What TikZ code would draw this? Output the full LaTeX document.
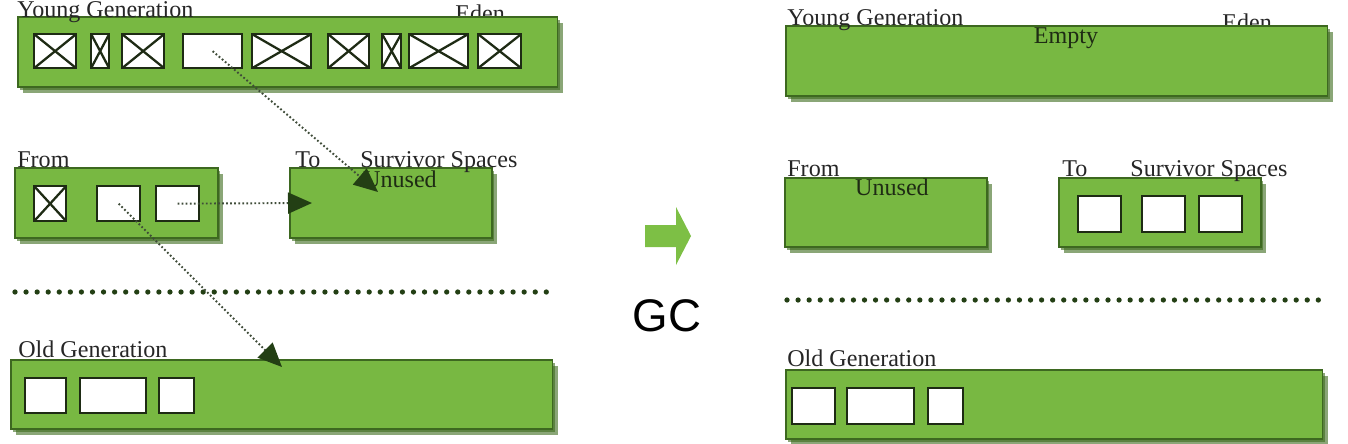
\documentclass[tikz,border=0pt]{standalone}
\usepackage{fontspec}
\setmainfont{Liberation Serif}
\newfontfamily\gcfont{Liberation Sans}
\usetikzlibrary{arrows.meta, shadows, positioning}
\definecolor{gcgreen}{HTML}{78B842}
\definecolor{gcedge}{HTML}{3D6820}
\definecolor{gcshade}{HTML}{3C6A1C}
\definecolor{gchead}{HTML}{233F14}
\definecolor{gcdots}{HTML}{3F4C39}
\definecolor{gcink}{HTML}{1E2B14}
\definecolor{gcarrow}{HTML}{7DBF45}

\begin{document}
\begin{tikzpicture}[
  x=0.02cm, y=-0.02cm,
  region/.style={draw=gcedge, line width=0.9pt, fill=gcgreen, anchor=north west, inner sep=0pt,
                 double copy shadow={shadow xshift=0.05cm, shadow yshift=-0.06cm, fill=gcshade, draw=none, opacity=0.6}},
  obj/.style={draw=gcink, line width=1.3pt, fill=white, anchor=north west, inner sep=0pt},
  dead/.style={obj, path picture={\draw[gcink, line width=1.3pt]
                 (path picture bounding box.north west) -- (path picture bounding box.south east)
                 (path picture bounding box.south west) -- (path picture bounding box.north east);}},
  lbl/.style={anchor=base west, inner sep=0pt, text=black!85, font=\fontsize{13.7}{16}\selectfont},
  note/.style={lbl, anchor=base, text=gcink},
  move/.style={gcdots, line width=1.1pt, dash pattern=on 1pt off 1.3pt,
               -{Triangle[length=0.48cm, width=0.42cm, color=gchead]}},
  sep/.style={gchead, line width=3pt, line cap=round, dash pattern=on 0pt off 6.3pt}
]
\useasboundingbox (0,0) rectangle (1348,443);

% labels behind the boxes
\node[lbl] (eden1) at (455,21) {Eden};
\node[lbl] (eden2) at (1222,30) {Eden};

% ---- before GC ----
\node[region, minimum width=10.8cm, minimum height=1.4cm] (young1) at (17,16) {};
\node[dead, minimum width=0.84cm, minimum height=0.68cm] (e1) at (33,33) {};
\node[dead, minimum width=0.36cm, minimum height=0.68cm] (e2) at (90,33) {};
\node[dead, minimum width=0.84cm, minimum height=0.68cm] (e3) at (121,33) {};
\node[obj,  minimum width=1.18cm, minimum height=0.68cm] (e4) at (182,33) {};
\node[dead, minimum width=1.18cm, minimum height=0.68cm] (e5) at (251,33) {};
\node[dead, minimum width=0.82cm, minimum height=0.68cm] (e6) at (327,33) {};
\node[dead, minimum width=0.38cm, minimum height=0.68cm] (e7) at (381,33) {};
\node[dead, minimum width=1.18cm, minimum height=0.68cm] (e8) at (408,33) {};
\node[dead, minimum width=0.86cm, minimum height=0.68cm] (e9) at (477,33) {};

\node[region, minimum width=4.06cm, minimum height=1.4cm] (from1) at (14,167) {};
\node[dead, minimum width=0.64cm, minimum height=0.7cm] (f1) at (33,185) {};
\node[obj,  minimum width=0.86cm, minimum height=0.7cm] (f2) at (96,185) {};
\node[obj,  minimum width=0.86cm, minimum height=0.7cm] (f3) at (155,185) {};
\node[region, minimum width=4.04cm, minimum height=1.4cm] (to1) at (289,167) {};

\draw[sep] (15,292) -- (557,292);

\node[region, minimum width=10.84cm, minimum height=1.38cm] (old1) at (10,359) {};
\node[obj, minimum width=0.82cm, minimum height=0.7cm] (o1) at (24,377) {};
\node[obj, minimum width=1.32cm, minimum height=0.7cm] (o2) at (79,377) {};
\node[obj, minimum width=0.7cm,  minimum height=0.7cm] (o3) at (158,377) {};

\node[lbl] (yg1) at (17,17) {Young Generation};
\node[lbl] (fr1) at (17,167) {From};
\node[lbl] (tl1) at (295,167) {To};
\node[lbl] (sv1) at (360,167) {Survivor Spaces};
\node[note] (un1) at (400,187) {Unused};
\node[lbl] (og1) at (18,357) {Old Generation};

\coordinate (tip1) at (378,192);
\coordinate (tip2) at (312,203);
\coordinate (tip3) at (282,367);
\draw[move] (e4.center) -- (tip1);
\draw[move] (f3.center) -- (tip2);
\draw[move] (f2.center) -- (tip3);

% ---- the GC step ----
\fill[gcarrow] (645,225) -- (676,225) -- (676,207) -- (691,236) -- (676,265) -- (676,247) -- (645,247) -- cycle;
\node[inner sep=0pt, font=\gcfont\fontsize{26}{30}\selectfont] (gc) at (667,316) {GC};

% ---- after GC ----
\node[region, minimum width=10.84cm, minimum height=1.4cm] (young2) at (785,25) {};
\node[note] (em2) at (1066,43) {Empty};

\node[region, minimum width=4.04cm, minimum height=1.38cm] (from2) at (784,177) {};
\node[region, minimum width=4.04cm, minimum height=1.38cm] (to2) at (1058,177) {};
\node[obj, minimum width=0.86cm, minimum height=0.72cm] (t1) at (1077,195) {};
\node[obj, minimum width=0.86cm, minimum height=0.72cm] (t2) at (1141,195) {};
\node[obj, minimum width=0.86cm, minimum height=0.72cm] (t3) at (1198,195) {};

\draw[sep] (787,300) -- (1328,300);

\node[region, minimum width=10.74cm, minimum height=1.38cm] (old2) at (785,369) {};
\node[obj, minimum width=0.86cm, minimum height=0.72cm] (p1) at (791,387) {};
\node[obj, minimum width=1.34cm, minimum height=0.72cm] (p2) at (846,387) {};
\node[obj, minimum width=0.7cm,  minimum height=0.72cm] (p3) at (927,387) {};

\node[lbl] (yg2) at (787,25) {Young Generation};
\node[lbl] (fr2) at (787,176) {From};
\node[note] (un2) at (892,195) {Unused};
\node[lbl] (tl2) at (1062,176) {To};
\node[lbl] (sv2) at (1130,176) {Survivor Spaces};
\node[lbl] (og2) at (787,366) {Old Generation};
\end{tikzpicture}
\end{document}
